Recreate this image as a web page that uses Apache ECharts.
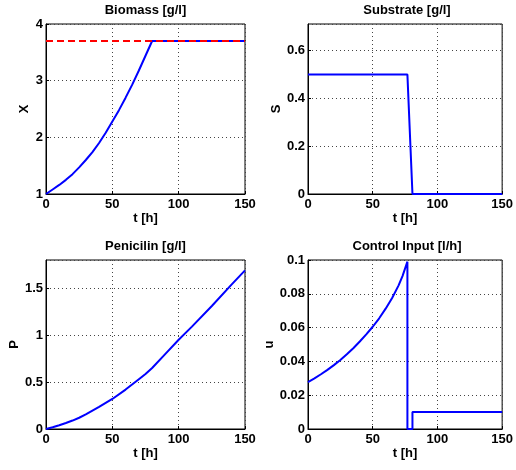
<!DOCTYPE html>
<html>
<head>
<meta charset="utf-8">
<script src="https://cdn.jsdelivr.net/npm/echarts@6/dist/echarts.min.js"></script>
<style>
html,body{margin:0;padding:0;background:#fff;}
#chart{width:516px;height:470px;}
</style>
</head>
<body>
<div id="chart"></div>
<script>
// ---- data ----
var titles = ['Biomass [g/l]', 'Substrate [g/l]', 'Penicilin [g/l]', 'Control Input [l/h]'];
var yNames = ['X', 'S', 'P', 'u'];
var xName = 't [h]';

var biomassT = [0, 5, 10, 15, 20, 25, 30, 35, 40, 45, 50, 55, 60, 65, 70, 75, 80, 150];
var biomassX = [1.00, 1.08, 1.16, 1.25, 1.35, 1.47, 1.60, 1.74, 1.90, 2.08, 2.28, 2.48, 2.70, 2.93, 3.18, 3.44, 3.70, 3.70];
var biomassLimitT = [0, 150];
var biomassLimit = [3.7, 3.7];

var substrateT = [0, 76.8, 80.7, 150];
var substrateS = [0.5, 0.5, 0, 0];

var penicillinT = [0, 5, 10, 15, 20, 25, 30, 40, 50, 60, 70, 75, 80, 90, 100, 110, 125, 140, 150];
var penicillinP = [0, 0.018, 0.04, 0.064, 0.09, 0.12, 0.155, 0.235, 0.32, 0.42, 0.53, 0.585, 0.65, 0.80, 0.95, 1.09, 1.31, 1.54, 1.69];

var controlT = [0, 5, 10, 15, 20, 25, 30, 35, 40, 45, 50, 55, 60, 65, 70, 73, 76.8, 76.8, 80.7, 80.7, 150];
var controlU = [0.0278, 0.0300, 0.0324, 0.0350, 0.0378, 0.0408, 0.0442, 0.0478, 0.0518, 0.0560, 0.0605,
                0.0655, 0.0712, 0.0775, 0.0850, 0.0905, 0.0990, 0, 0, 0.01, 0.01];

var xTicks = [0, 50, 100, 150];
var yRanges = [[1, 4, 1], [0, 0.712, 0.2], [0, 1.8, 0.5], [0, 0.1, 0.02]];

function pairs(t, v) { return t.map(function (x, i) { return [x, v[i]]; }); }

// ---- layout ----
var grids = [
  {left: 46, top: 24, width: 199, height: 170},
  {left: 308, top: 24, width: 198, height: 170},
  {left: 46, top: 260, width: 199, height: 169},
  {left: 308, top: 260, width: 198, height: 169}
];
var nameGaps = [15, 22, 25, 31];
var FONT = 'Liberation Sans, Arial, Helvetica, sans-serif';

var chart = echarts.init(document.getElementById('chart'), null, {renderer: 'canvas'});
var option = {
  animation: false,
  backgroundColor: '#fff',
  title: grids.map(function (g, i) {
    return {
      text: titles[i], left: g.left + g.width / 2, top: g.top - 20, textAlign: 'center',
      padding: 0,
      textStyle: {fontFamily: FONT, fontWeight: 'bold', fontSize: 13, color: '#000'}
    };
  }),
  grid: grids.map(function (g) {
    return {left: g.left, top: g.top, width: g.width, height: g.height, show: true,
      borderColor: '#000', borderWidth: 1, backgroundColor: 'transparent', containLabel: false};
  }),
  xAxis: grids.map(function (g, i) {
    return {
      type: 'value', gridIndex: i, min: xTicks[0], max: xTicks[xTicks.length - 1], interval: 50,
      name: xName, nameLocation: 'middle', nameGap: 17,
      nameTextStyle: {fontFamily: FONT, fontWeight: 'bold', fontSize: 13, color: '#000'},
      axisLine: {show: true, lineStyle: {color: '#000', width: 1}},
      axisTick: {show: true, inside: true, length: 3, lineStyle: {color: '#000'}},
      axisLabel: {fontFamily: FONT, fontWeight: 'bold', fontSize: 13, color: '#000', margin: 4},
      splitLine: {show: true, lineStyle: {color: '#444', width: 1, type: [1, 3]}}
    };
  }),
  yAxis: grids.map(function (g, i) {
    var r = yRanges[i];
    return {
      type: 'value', gridIndex: i, min: r[0], max: r[1], interval: r[2],
      name: yNames[i], nameLocation: 'middle', nameGap: nameGaps[i],
      nameTextStyle: {fontFamily: FONT, fontWeight: 'bold', fontSize: 13, color: '#000'},
      axisLine: {show: true, lineStyle: {color: '#000', width: 1}},
      axisTick: {show: true, inside: true, length: 3, lineStyle: {color: '#000'}},
      axisLabel: {fontFamily: FONT, fontWeight: 'bold', fontSize: 13, color: '#000', margin: 3,
        showMaxLabel: (i === 0 || i === 3)},
      splitLine: {show: true, lineStyle: {color: '#444', width: 1, type: [1, 3]}}
    };
  }),
  series: [
    {type: 'line', xAxisIndex: 0, yAxisIndex: 0, data: pairs(biomassT, biomassX),
      showSymbol: false, lineStyle: {color: '#0000ff', width: 2}, z: 2},
    {type: 'line', xAxisIndex: 0, yAxisIndex: 0, data: pairs(biomassLimitT, biomassLimit),
      showSymbol: false, lineStyle: {color: '#ff0000', width: 2, type: [7, 4]}, z: 3},
    {type: 'line', xAxisIndex: 1, yAxisIndex: 1, data: pairs(substrateT, substrateS),
      showSymbol: false, lineStyle: {color: '#0000ff', width: 2}},
    {type: 'line', xAxisIndex: 2, yAxisIndex: 2, data: pairs(penicillinT, penicillinP),
      showSymbol: false, lineStyle: {color: '#0000ff', width: 2}},
    {type: 'line', xAxisIndex: 3, yAxisIndex: 3, data: pairs(controlT, controlU),
      showSymbol: false, lineStyle: {color: '#0000ff', width: 2}}
  ]
};
chart.setOption(option);
</script>
</body>
</html>
